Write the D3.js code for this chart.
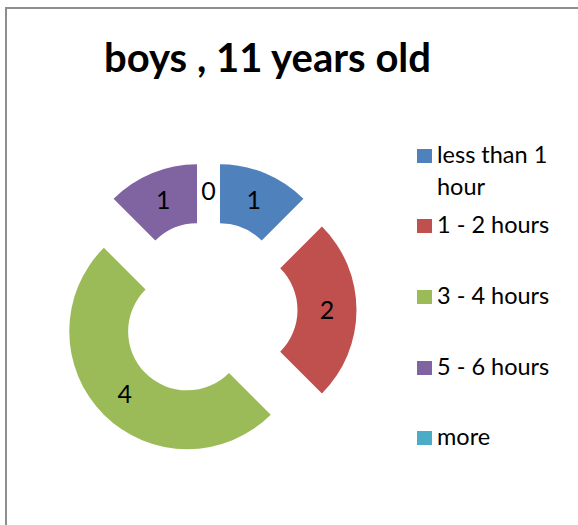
<!DOCTYPE html>
<html>
<head>
<meta charset="utf-8">
<script src="https://cdn.jsdelivr.net/npm/d3@7"></script>
<style>
  body { margin: 0; background: #fff; }
  svg { display: block; font-family: Lato, "Open Sans", sans-serif; }
</style>
</head>
<body>
<svg id="chart" width="578" height="525"></svg>
<script>
// data
var title = "boys , 11 years old";
var categories = ["less than 1 hour", "1 - 2 hours", "3 - 4 hours", "5 - 6 hours", "more"];
var legendLines = [["less than 1", "hour"], ["1 - 2 hours"], ["3 - 4 hours"], ["5 - 6 hours"], ["more"]];
var values = [1, 2, 4, 1, 0];
var colors = ["#4F81BD", "#C0504D", "#9BBB59", "#8064A2", "#4BACC6"];

var svg = d3.select("#chart");

// frame (left + top edges visible)
svg.append("path")
  .attr("d", "M6,525 V8 H578")
  .attr("fill", "none")
  .attr("stroke", "#8e8e8e")
  .attr("stroke-width", 2);

svg.append("text")
  .attr("x", 267.5)
  .attr("y", 72)
  .attr("text-anchor", "middle")
  .attr("font-weight", "bold")
  .attr("font-size", 40)
  .attr("fill", "#000")
  .text(title);

var cx = 208.5, cy = 310, rOuter = 118, rInner = 59, explode = 30;

var pie = d3.pie().sort(null).value(function(d) { return d; });
var arcs = pie(values);
var arc = d3.arc().innerRadius(rInner).outerRadius(rOuter);

var g = svg.append("g").attr("transform", "translate(" + cx + "," + cy + ")");

function offset(d, r) {
  var a = (d.startAngle + d.endAngle) / 2;
  return [Math.sin(a) * r, -Math.cos(a) * r];
}

g.selectAll("path.slice")
  .data(arcs)
  .enter()
  .append("path")
  .attr("class", "slice")
  .attr("d", arc)
  .attr("fill", function(d, i) { return colors[i]; })
  .attr("transform", function(d) {
    var o = offset(d, explode);
    return "translate(" + o[0] + "," + o[1] + ")";
  });

g.selectAll("text.lbl")
  .data(arcs)
  .enter()
  .append("text")
  .attr("class", "lbl")
  .attr("x", function(d) { return offset(d, explode + (rInner + rOuter) / 2)[0]; })
  .attr("y", function(d) { return offset(d, explode + (rInner + rOuter) / 2)[1]; })
  .attr("dy", "0.35em")
  .attr("text-anchor", "middle")
  .attr("font-size", 25)
  .attr("fill", "#000")
  .text(function(d) { return d.data; });

// legend
var legendBaselines = [163, 233, 304, 375, 445];
var leg = svg.append("g");
categories.forEach(function(c, i) {
  var y = legendBaselines[i];
  leg.append("rect")
    .attr("x", 417).attr("y", y - 14)
    .attr("width", 15).attr("height", 14)
    .attr("fill", colors[i]);
  legendLines[i].forEach(function(line, j) {
    leg.append("text")
      .attr("x", 437)
      .attr("y", y + j * 32)
      .attr("font-size", 23.5)
      .attr("fill", "#000")
      .text(line);
  });
});
</script>
</body>
</html>
